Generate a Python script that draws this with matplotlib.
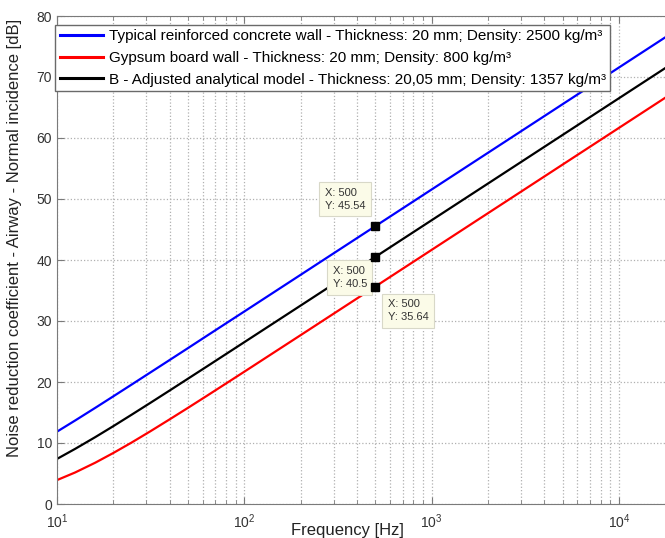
import numpy as np
import matplotlib
matplotlib.use('Agg')
import matplotlib.pyplot as plt
from matplotlib.ticker import LogLocator, NullFormatter

plt.rcParams['font.family'] = ['Liberation Sans', 'DejaVu Sans']

freq = [10, 12.5, 16, 20, 25, 31.5, 40, 50, 63, 80, 100, 200, 500,
        1000, 2000, 5000, 10000, 20000]
concrete = [11.86, 13.69, 15.76, 17.66, 19.57, 21.56, 23.62, 25.55, 27.56,
            29.63, 31.56, 37.58, 45.54, 51.56, 57.58, 65.54, 71.56, 77.58]
gypsum = [3.92, 5.17, 6.77, 8.37, 10.07, 11.92, 13.89, 15.76, 17.72,
          19.77, 21.69, 27.69, 35.64, 41.66, 47.68, 55.64, 61.66, 67.68]
model_b = [7.39, 9.04, 10.96, 12.77, 14.63, 16.58, 18.62, 20.54, 22.53,
           24.60, 26.53, 32.54, 40.50, 46.52, 52.54, 60.50, 66.52, 72.54]

labels = ['Typical reinforced concrete wall - Thickness: 20 mm; Density: 2500 kg/m\u00b3',
          'Gypsum board wall - Thickness: 20 mm; Density: 800 kg/m\u00b3',
          'B - Adjusted analytical model - Thickness: 20,05 mm; Density: 1357 kg/m\u00b3']

tip_x = 500
tip_y = [45.54, 40.5, 35.64]
# datatip box placement (offset in points, horizontal / vertical anchor)
tip_place = [((-7, 11), 'right', 'bottom'),
             ((-6, -6.5), 'right', 'top'),
             ((9, -9), 'left', 'top')]

fig = plt.figure(figsize=(6.65, 5.38), dpi=100)
ax = fig.add_axes([57 / 665, 34 / 538, 1 - 57 / 665, 488 / 538])

ax.plot(freq, concrete, color='blue', lw=1.6, label=labels[0])
ax.plot(freq, gypsum, color='red', lw=1.6, label=labels[1])
ax.plot(freq, model_b, color='black', lw=1.6, label=labels[2])

ax.set_xscale('log')
ax.set_xlim(10, 10 ** 4.2457)
ax.set_ylim(0, 80)
ax.set_yticks(range(0, 81, 10))
ax.xaxis.set_major_locator(LogLocator(base=10, numticks=10))
ax.xaxis.set_minor_locator(LogLocator(base=10, subs=np.arange(2, 10), numticks=10))
ax.xaxis.set_minor_formatter(NullFormatter())

ax.grid(True, which='major', axis='both', ls=':', color='#b0b0b0', lw=0.9)
ax.grid(True, which='minor', axis='x', ls=':', color='#b0b0b0', lw=0.9)

for s in ['left', 'bottom', 'top']:
    ax.spines[s].set_color('#7a7a7a')
ax.spines['right'].set_visible(False)
ax.tick_params(which='both', direction='in', top=True, right=False,
               colors='#7a7a7a', labelcolor='#333333', labelsize=10)
ax.tick_params(which='major', length=5)
ax.tick_params(which='minor', length=3)
ax.tick_params(axis='x', pad=6)

ax.set_xlabel('Frequency [Hz]', fontsize=12, color='#222222')
ax.xaxis.set_label_coords(0.477, -0.038)
ax.set_ylabel('Noise reduction coefficient - Airway - Normal incidence [dB]',
              fontsize=12, color='#222222')
ax.yaxis.set_label_coords(-0.058, 0.545)

for y, (off, ha, va) in zip(tip_y, tip_place):
    ax.plot(tip_x, y, 's', color='black', ms=6, zorder=8)
    ax.annotate('X: %d\nY: %s' % (tip_x, y), (tip_x, y), xytext=off,
                textcoords='offset points', ha=ha, va=va, multialignment='left',
                fontsize=8, color='#333333', linespacing=1.4, zorder=6,
                bbox=dict(boxstyle='square,pad=0.5', fc='#fbfbe8', ec='#d8d8c8', lw=0.8))

leg = ax.legend(loc='upper left', bbox_to_anchor=(-0.003, 0.982), fontsize=11,
                handlelength=2.8, handletextpad=0.4, labelspacing=0.5,
                borderaxespad=0, fancybox=False, framealpha=1, borderpad=0.3)
leg.set_zorder(10)
leg.get_frame().set_edgecolor('#6a6a6a')
leg.get_frame().set_linewidth(1.0)
for line in leg.get_lines():
    line.set_linewidth(2.2)

fig.savefig('out.png', dpi=100)
